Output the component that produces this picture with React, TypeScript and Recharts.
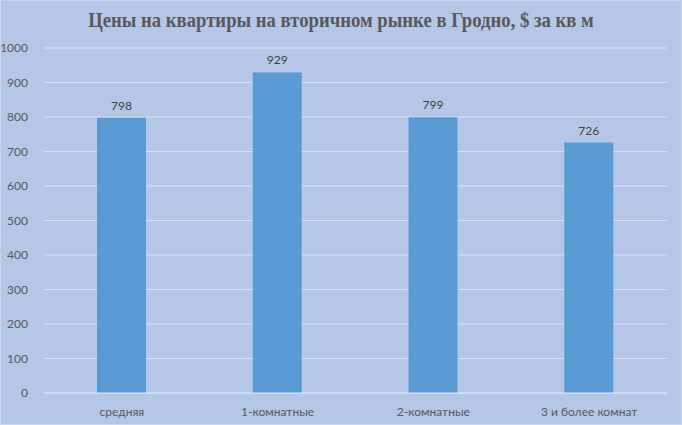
import React from "react";
import { BarChart, Bar, XAxis, YAxis, CartesianGrid, LabelList } from "recharts";

const categories = ["средняя", "1-комнатные", "2-комнатные", "3 и более комнат"];
const prices = [798, 929, 799, 726];
const yTicks = [0, 100, 200, 300, 400, 500, 600, 700, 800, 900, 1000];

const data = categories.map((c, i) => ({ name: c, value: prices[i] }));

const tickFont = { fontFamily: "Lato, 'Open Sans', sans-serif", fontSize: 12, fill: "#595959" };

export default function App() {
  return (
    <div style={{ position: "fixed", left: 0, top: 0, width: 682, height: 425, background: "#b4c7e7", boxShadow: "inset 0 0 0 1px #c9d6ee" }}>
      <div
        style={{
          position: "absolute",
          top: 8,
          left: 0,
          width: 682,
          textAlign: "center",
          fontFamily: "'Liberation Serif', 'Times New Roman', serif",
          fontWeight: "bold",
          fontSize: 21,
          lineHeight: "24px",
          color: "#595959",
          transform: "scaleX(0.89)",
          transformOrigin: "341px 0",
          whiteSpace: "nowrap",
        }}
      >
        Цены на квартиры на вторичном рынке в Гродно, $ за кв м
      </div>
      <div style={{ position: "absolute", left: 0, top: 0 }}>
        <BarChart width={682} height={425} data={data} margin={{ top: 48, right: 15, bottom: 2, left: 0 }} barSize={49}>
          <CartesianGrid vertical={false} stroke="#dbe3f2" strokeWidth={1} />
          <XAxis
            dataKey="name"
            height={30}
            tick={tickFont}
            tickLine={false}
            axisLine={{ stroke: "#dbe3f2" }}
            tickMargin={8}
          />
          <YAxis
            width={44}
            domain={[0, 1000]}
            ticks={yTicks}
            tick={tickFont}
            tickLine={false}
            axisLine={false}
            tickMargin={10}
            interval={0}
          />
          <Bar dataKey="value" fill="#5b9bd5" isAnimationActive={false}>
            <LabelList dataKey="value" position="top" offset={8} style={{ fontFamily: "Lato, 'Open Sans', sans-serif", fontSize: 12, fill: "#404040" }} />
          </Bar>
        </BarChart>
      </div>
    </div>
  );
}
